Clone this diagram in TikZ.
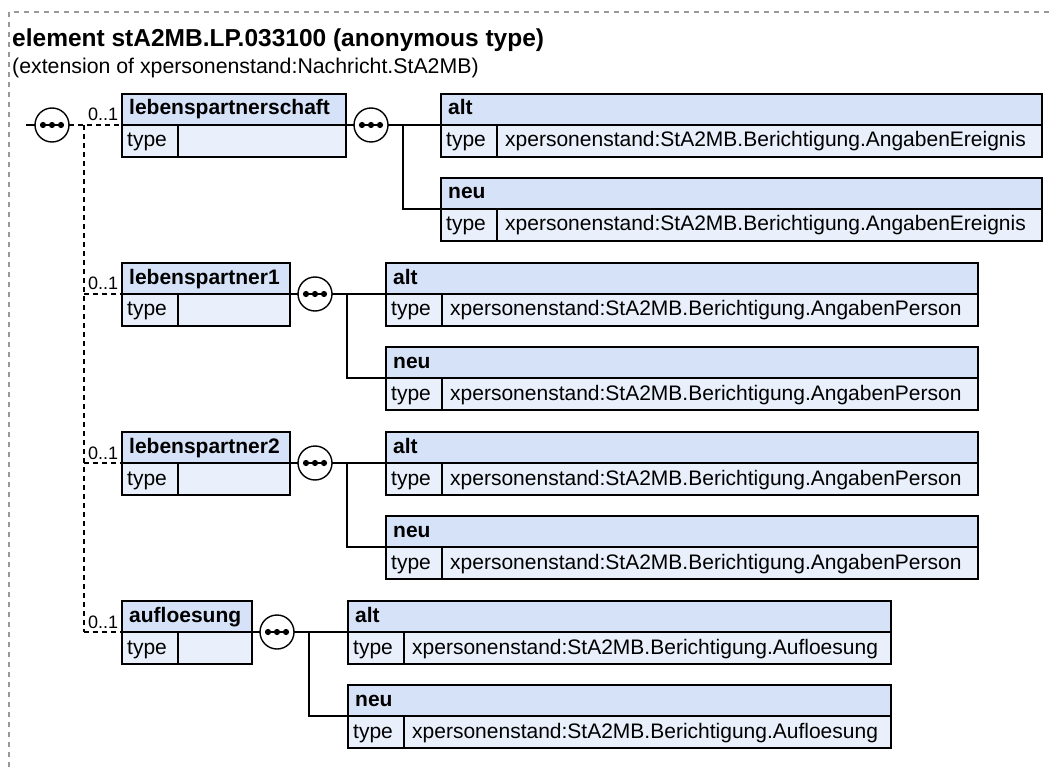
\documentclass[tikz,border=0pt]{standalone}
\usepackage{fontspec}
\setmainfont{Liberation Sans}
\definecolor{hdrfill}{HTML}{D6E2F7}
\definecolor{rowfill}{HTML}{E9F0FB}
\definecolor{bordergray}{HTML}{999999}
\tikzset{
  hdr/.style={draw=black, fill=hdrfill, line width=1.5pt, minimum height=31pt, inner sep=0pt, outer sep=0pt},
  row/.style={draw=black, fill=rowfill, line width=1.5pt, minimum height=32pt, inner sep=0pt, outer sep=0pt},
  txt/.style={inner sep=0pt, font=\fontsize{21}{25}\selectfont},
  txtb/.style={inner sep=0pt, font=\fontsize{21}{25}\selectfont\bfseries},
  card/.style={inner sep=0pt, font=\fontsize{18}{22}\selectfont},
  conn/.style={line width=1.5pt, black},
  optconn/.style={line width=1.4pt, black, dash pattern=on 5pt off 4pt},
  seq/.style={circle, draw=black, fill=white, line width=1.4pt, minimum size=34pt, inner sep=0pt, outer sep=0pt,
    path picture={
      \draw[black, line width=1.3pt] ([xshift=-9pt]path picture bounding box.center) -- ([xshift=9pt]path picture bounding box.center);
      \fill[black] ([xshift=-9pt]path picture bounding box.center) circle (3.1pt);
      \fill[black] (path picture bounding box.center) circle (3.1pt);
      \fill[black] ([xshift=9pt]path picture bounding box.center) circle (3.1pt);
    }},
}
% #1 name, #2 left, #3 right, #4 mid y, #5 label, #6 type text
\newcommand\xsdbox[6]{%
  \node[hdr, minimum width={(#3-#2)*1pt}, anchor=north west] (#1-h) at (#2,#4-31) {};
  \node[txtb, anchor=base west] (#1-l) at (#2+7,#4-10) {#5};
  \node[row, minimum width={56pt}, anchor=north west] (#1-t) at (#2,#4) {};
  \node[row, minimum width={(#3-#2-56)*1pt}, anchor=north west] (#1-v) at (#2+56,#4) {};
  \node[txt, anchor=base west] (#1-tt) at (#2+5,#4+22) {type};
  \node[txt, anchor=base west] (#1-vt) at (#2+64,#4+22) {#6};
}
\begin{document}
\begin{tikzpicture}[x=1pt,y=-1pt]
\useasboundingbox (0,0) rectangle (1049,767);
% outer dashed frame
\draw[bordergray, line width=1.3pt, dash pattern=on 5pt off 5pt] (9,767) -- (9,12) -- (1049,12);
% title
\node[inner sep=0pt, anchor=base west, font=\fontsize{24.5}{29}\selectfont\bfseries] (title) at (12,47) {element stA2MB.LP.033100 (anonymous type)};
\node[inner sep=0pt, anchor=base west, font=\fontsize{21.3}{25}\selectfont] (subtitle) at (12,74) {(extension of xpersonenstand:Nachricht.StA2MB)};

% main sequence
\coordinate (m0) at (26,125);
\node[seq] (s0) at (52,125) {};
\draw[conn] (m0) -- (s0.west);
\coordinate (v1) at (84,125);
\coordinate (v2) at (84,294);
\coordinate (v3) at (84,463);
\coordinate (v4) at (84,632);

% top-level elements
\xsdbox{b1}{122}{346}{125}{lebenspartnerschaft}{}
\xsdbox{b2}{122}{290}{294}{lebenspartner1}{}
\xsdbox{b3}{122}{290}{463}{lebenspartner2}{}
\xsdbox{b4}{122}{252}{632}{aufloesung}{}

\draw[optconn] (s0.east) -- (b1-t.north west);
\draw[optconn] (v1) -- (v4);
\draw[optconn] (v2) -- (b2-t.north west);
\draw[optconn] (v3) -- (b3-t.north west);
\draw[optconn] (v4) -- (b4-t.north west);
\node[card, anchor=base west] (c1) at (88,121) {0..1};
\node[card, anchor=base west] (c2) at (88,290) {0..1};
\node[card, anchor=base west] (c3) at (88,459) {0..1};
\node[card, anchor=base west] (c4) at (88,628) {0..1};

% sequences of children
\node[seq] (s1) at (371,125) {};
\node[seq] (s2) at (315,294) {};
\node[seq] (s3) at (315,463) {};
\node[seq] (s4) at (277,632) {};
\draw[conn] (b1-v.north east) -- (s1.west);
\draw[conn] (b2-v.north east) -- (s2.west);
\draw[conn] (b3-v.north east) -- (s3.west);
\draw[conn] (b4-v.north east) -- (s4.west);

% children
\xsdbox{a1}{441}{1042}{125}{alt}{xpersonenstand:StA2MB.Berichtigung.AngabenEreignis}
\xsdbox{n1}{441}{1042}{209}{neu}{xpersonenstand:StA2MB.Berichtigung.AngabenEreignis}
\xsdbox{a2}{386}{978}{294}{alt}{xpersonenstand:StA2MB.Berichtigung.AngabenPerson}
\xsdbox{n2}{386}{978}{378}{neu}{xpersonenstand:StA2MB.Berichtigung.AngabenPerson}
\xsdbox{a3}{386}{978}{463}{alt}{xpersonenstand:StA2MB.Berichtigung.AngabenPerson}
\xsdbox{n3}{386}{978}{547}{neu}{xpersonenstand:StA2MB.Berichtigung.AngabenPerson}
\xsdbox{a4}{348}{891}{632}{alt}{xpersonenstand:StA2MB.Berichtigung.Aufloesung}
\xsdbox{n4}{348}{891}{716}{neu}{xpersonenstand:StA2MB.Berichtigung.Aufloesung}

\coordinate (j1) at (403,125);
\coordinate (j2) at (347,294);
\coordinate (j3) at (347,463);
\coordinate (j4) at (309,632);
\draw[conn] (s1.east) -- (a1-t.north west);
\draw[conn] (j1) |- (n1-t.north west);
\draw[conn] (s2.east) -- (a2-t.north west);
\draw[conn] (j2) |- (n2-t.north west);
\draw[conn] (s3.east) -- (a3-t.north west);
\draw[conn] (j3) |- (n3-t.north west);
\draw[conn] (s4.east) -- (a4-t.north west);
\draw[conn] (j4) |- (n4-t.north west);
\end{tikzpicture}
\end{document}
